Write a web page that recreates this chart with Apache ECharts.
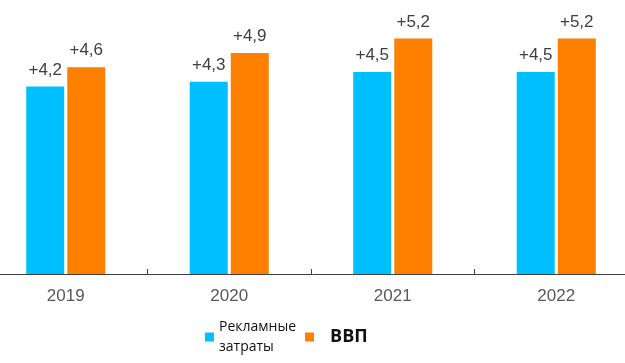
<!DOCTYPE html>
<html>
<head>
<meta charset="utf-8">
<script src="https://cdn.jsdelivr.net/npm/echarts@6/dist/echarts.min.js"></script>
<style>html,body{margin:0;padding:0;background:#fff;}#c{width:625px;height:363px;}</style>
</head>
<body>
<div id="c"></div>
<script>
var categories = ['2019', '2020', '2021', '2022'];
var adSpend = [4.2, 4.3, 4.5, 4.5];
var gdp = [4.6, 4.9, 5.2, 5.2];
var seriesNames = ['Рекламные\nзатраты', 'ВВП'];

var fmt = function (p) { return '+' + p.value.toFixed(1).replace('.', ','); };
var chart = echarts.init(document.getElementById('c'));
chart.setOption({
  animation: false,
  grid: { left: -16, right: -13, top: 0, bottom: 89, containLabel: false, outerBoundsMode: 'none' },
  xAxis: {
    type: 'category',
    data: categories,
    axisLine: { lineStyle: { color: '#404040', width: 1 } },
    axisTick: { show: true, inside: true, length: 5, lineStyle: { color: '#404040' } },
    axisLabel: { margin: 14, fontSize: 17, color: '#595959', fontFamily: 'Liberation Sans' }
  },
  yAxis: {
    type: 'value', min: 0.3, max: 6,
    show: false, splitLine: { show: false }
  },
  legend: {
    left: 200, top: 312, itemWidth: 9, itemHeight: 9, itemGap: 9, itemTextGap: 8,
    icon: 'rect',
    data: [
      { name: seriesNames[0], textStyle: { fontFamily: 'Open Sans', fontSize: 14, color: '#111', lineHeight: 20 } },
      { name: seriesNames[1], textStyle: { fontFamily: 'Open Sans', fontSize: 18, fontWeight: 'bold', color: '#111', padding: [0, 0, 0, 11] } }
    ]
  },
  series: [
    {
      name: seriesNames[0], type: 'bar', data: adSpend, barWidth: 38, barGap: '8%',
      itemStyle: { color: '#00BFFF' },
      label: { show: true, position: 'top', distance: 8, formatter: fmt, fontSize: 17, color: '#404040', fontFamily: 'Liberation Sans' }
    },
    {
      name: seriesNames[1], type: 'bar', data: gdp, barWidth: 38,
      itemStyle: { color: '#FF8000' },
      label: { show: true, position: 'top', distance: 8, formatter: fmt, fontSize: 17, color: '#404040', fontFamily: 'Liberation Sans' }
    }
  ]
});
</script>
</body>
</html>
